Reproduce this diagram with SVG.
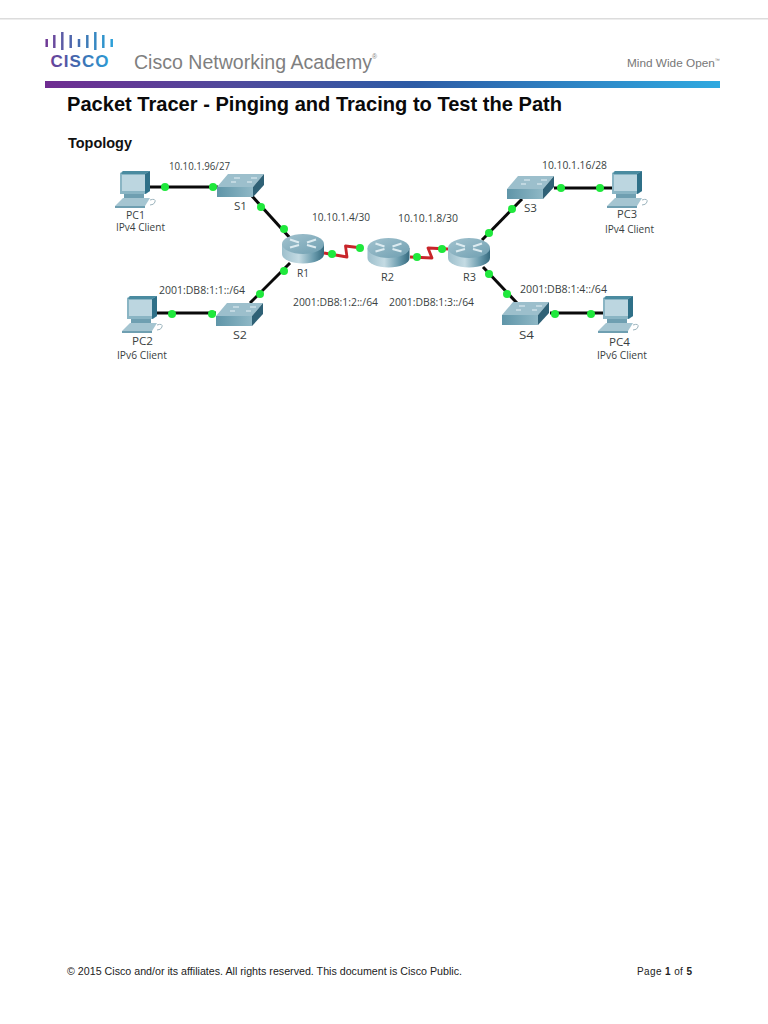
<svg xmlns="http://www.w3.org/2000/svg" width="768" height="1024" viewBox="0 0 768 1024">
<style>
text{font-family:"Liberation Sans",Arial,sans-serif}
.lbl{font-family:"Open Sans","Liberation Sans",sans-serif;font-size:10.500px;fill:#3a3f42}
.eth{fill:none;stroke:#0a0a0a;stroke-width:3}
.ser{fill:none;stroke:#c8252a;stroke-width:2.800;stroke-linejoin:round}
.dot{fill:#1fe83c}
.bar{stroke-width:2.500;fill:none}
</style>
<defs>
<linearGradient id="band" x1="0" x2="1" y1="0" y2="0"><stop offset="0" stop-color="#6f2c91"/><stop offset=".28" stop-color="#4f4a9c"/><stop offset=".55" stop-color="#2c5ca6"/><stop offset="1" stop-color="#2fa9e0"/></linearGradient>
<linearGradient id="logo" gradientUnits="userSpaceOnUse" x1="46" x2="112" y1="0" y2="0"><stop offset="0" stop-color="#6f3a96"/><stop offset=".5" stop-color="#3f6cb0"/><stop offset="1" stop-color="#2c9fd8"/></linearGradient>
<linearGradient id="rt" x1="0" x2="1" y1="0" y2="0"><stop offset="0" stop-color="#9dbfcc"/><stop offset=".4" stop-color="#c4dbe3"/><stop offset=".75" stop-color="#6b9cae"/><stop offset="1" stop-color="#356a7e"/></linearGradient>
<linearGradient id="rtop" x1="0" x2="1" y1="0" y2="1"><stop offset="0" stop-color="#a3c3cf"/><stop offset="1" stop-color="#6f9fb1"/></linearGradient>
<linearGradient id="sw" x1="0" x2="1" y1="0" y2="0"><stop offset="0" stop-color="#5f95a8"/><stop offset="1" stop-color="#8fb8c6"/></linearGradient>
<g id="pc">
<path d="M0 1 L3 -1 H30 V19 L26 22 H0Z" fill="#8ab5c4"/>
<path d="M25 2 L30 -1 V19 L25 22Z" fill="#2f7088"/>
<path d="M3 -1 H30 L25 2 H1Z" fill="#4a8ba0"/>
<rect x="2" y="3" width="23" height="16" fill="#bcd6e0"/>
<path d="M4 22 H24 V26 H4Z" fill="#6f9fb1"/>
<path d="M-5 34 L3 26 H30 L25 34Z" fill="#a5c5d1"/>
<path d="M-5 34 H25 V36 H-5Z" fill="#6f9fb1"/>
<path d="M30 28 q6 -2 5 2 q-1 3 -5 3" fill="none" stroke="#9cb4bd"/>
</g>
<g id="switch">
<path d="M0 13 L11 0 H47 L36 13Z" fill="#9cbfcc"/>
<path d="M14 8 H19 M17 4 H23 M30 8 H35 M34 4 H40" stroke="#e6f1f5" stroke-width="1.200"/>
<path d="M0 13 H36 V23 H0Z" fill="url(#sw)"/>
<path d="M36 13 L47 0 V11 L36 23Z" fill="#2f6176"/>
</g>
<g id="router">
<path d="M-21 -5 V5 A21 9.500 0 0 0 21 5 V-5Z" fill="url(#rt)"/>
<ellipse cx="0" cy="-5" rx="21" ry="10" fill="url(#rtop)"/>
<path d="M-13 -9.500 L-4 -6.500 M-13 -1.500 L-4 -4 M13 -9.500 L4 -6.500 M13 -1.500 L4 -4" stroke="#dcebf0" stroke-width="2"/>
</g>
</defs>
<rect width="768" height="1024" fill="#fff"/>
<rect x="0" y="18" width="768" height="1.500" fill="#dcdcdc"/>
<g id="header">
<g class="bar">
<path d="M46.700 39V47" stroke="#6f3a96"/><path d="M54.300 35V48" stroke="#6a4b9e"/><path d="M62.300 32V50" stroke="#5c5ca6"/><path d="M70.700 35V48" stroke="#4f66ac"/><path d="M79 39V47" stroke="#456eb0"/><path d="M87.300 35V48" stroke="#3f7cb8"/><path d="M95.300 32V50" stroke="#3788c2"/><path d="M103.300 35V48" stroke="#3194cc"/><path d="M111.700 39V47" stroke="#2c9fd8"/>
</g>
<text x="50.500" y="67" font-size="17" font-weight="700" fill="url(#logo)" textLength="58" lengthAdjust="spacing">CISCO</text>
<text x="134" y="68.500" font-size="20" fill="#7f7f7f" textLength="243" lengthAdjust="spacingAndGlyphs">Cisco Networking Academy<tspan font-size="7" dy="-10">®</tspan></text>
<text x="627" y="67" font-size="11.500" fill="#777" textLength="93" lengthAdjust="spacingAndGlyphs">Mind Wide Open<tspan font-size="5" dy="-5">™</tspan></text>
<rect x="45" y="81" width="675" height="7" fill="url(#band)"/>
</g>
<text x="67" y="110.500" font-size="21" font-weight="700" fill="#0a0a0a" textLength="495" lengthAdjust="spacingAndGlyphs">Packet Tracer - Pinging and Tracing to Test the Path</text>
<text x="68" y="147.500" font-size="14.500" font-weight="700" fill="#111" textLength="64" lengthAdjust="spacingAndGlyphs">Topology</text>
<g id="connectors">
<path class="eth" d="M150 187H218"/>
<path class="eth" d="M252 196L290 238"/>
<path class="eth" d="M290 263L250 303"/>
<path class="eth" d="M157 313H216"/>
<path class="ser" d="M324 253L347 257L345.500 246L362 248"/>
<path class="ser" d="M410 257L432 258L428 248L448 249"/>
<path class="eth" d="M482 240L522 199"/>
<path class="eth" d="M483 267L517 303"/>
<path class="eth" d="M554 188H612"/>
<path class="eth" d="M550 313H603"/>
<g class="dot">
<circle cx="165" cy="187" r="4"/><circle cx="213" cy="187" r="4"/>
<circle cx="261" cy="207" r="4"/><circle cx="284" cy="229" r="4"/>
<circle cx="284" cy="271" r="4"/><circle cx="260" cy="294" r="4"/>
<circle cx="172" cy="314" r="4"/><circle cx="212" cy="314" r="4"/>
<circle cx="332" cy="254" r="4"/><circle cx="360" cy="248" r="4"/>
<circle cx="417" cy="257" r="4"/><circle cx="442" cy="249" r="4"/>
<circle cx="512" cy="209" r="4"/><circle cx="489" cy="233" r="4"/>
<circle cx="561" cy="188" r="4"/><circle cx="600" cy="188" r="4"/>
<circle cx="489" cy="274" r="4"/><circle cx="507" cy="294" r="4"/>
<circle cx="555" cy="314" r="4"/><circle cx="591" cy="314" r="4"/>
</g>
</g>
<g id="PC1"><use href="#pc" x="120" y="172"/><text class="lbl" x="126" y="219" textLength="19" lengthAdjust="spacingAndGlyphs">PC1</text><text class="lbl" x="116" y="231" textLength="49" lengthAdjust="spacingAndGlyphs">IPv4 Client</text></g>
<g id="PC2"><use href="#pc" x="127" y="297"/><text class="lbl" x="132" y="345" textLength="21" lengthAdjust="spacingAndGlyphs">PC2</text><text class="lbl" x="117" y="359" textLength="50" lengthAdjust="spacingAndGlyphs">IPv6 Client</text></g>
<g id="PC3"><use href="#pc" x="612" y="172"/><text class="lbl" x="617" y="218" textLength="20" lengthAdjust="spacingAndGlyphs">PC3</text><text class="lbl" x="605" y="233" textLength="49" lengthAdjust="spacingAndGlyphs">IPv4 Client</text></g>
<g id="PC4"><use href="#pc" x="603" y="297"/><text class="lbl" x="609" y="346" textLength="21" lengthAdjust="spacingAndGlyphs">PC4</text><text class="lbl" x="597" y="359" textLength="50" lengthAdjust="spacingAndGlyphs">IPv6 Client</text></g>
<g id="S1"><use href="#switch" x="217" y="174"/><text class="lbl" x="234" y="210" textLength="13" lengthAdjust="spacingAndGlyphs">S1</text></g>
<g id="S2"><use href="#switch" x="216" y="303"/><text class="lbl" x="233" y="339" textLength="14" lengthAdjust="spacingAndGlyphs">S2</text></g>
<g id="S3"><use href="#switch" x="507" y="176"/><text class="lbl" x="524" y="212" textLength="13" lengthAdjust="spacingAndGlyphs">S3</text></g>
<g id="S4"><use href="#switch" x="502" y="302"/><text class="lbl" x="519" y="339" textLength="15" lengthAdjust="spacingAndGlyphs">S4</text></g>
<g id="R1"><use href="#router" x="303" y="249"/><text class="lbl" x="297" y="277" textLength="12" lengthAdjust="spacingAndGlyphs">R1</text></g>
<g id="R2"><use href="#router" x="388.500" y="253"/><text class="lbl" x="381" y="281" textLength="13" lengthAdjust="spacingAndGlyphs">R2</text></g>
<g id="R3"><use href="#router" x="469" y="253"/><text class="lbl" x="463" y="281" textLength="13" lengthAdjust="spacingAndGlyphs">R3</text></g>
<g id="net-labels">
<text class="lbl" x="169" y="170" textLength="61" lengthAdjust="spacingAndGlyphs">10.10.1.96/27</text>
<text class="lbl" x="312" y="221" textLength="58" lengthAdjust="spacingAndGlyphs">10.10.1.4/30</text>
<text class="lbl" x="398" y="222" textLength="60" lengthAdjust="spacingAndGlyphs">10.10.1.8/30</text>
<text class="lbl" x="542" y="169" textLength="65" lengthAdjust="spacingAndGlyphs">10.10.1.16/28</text>
<text class="lbl" x="159" y="294" textLength="86" lengthAdjust="spacingAndGlyphs">2001:DB8:1:1::/64</text>
<text class="lbl" x="293" y="306" textLength="85" lengthAdjust="spacingAndGlyphs">2001:DB8:1:2::/64</text>
<text class="lbl" x="389" y="306" textLength="85" lengthAdjust="spacingAndGlyphs">2001:DB8:1:3::/64</text>
<text class="lbl" x="520" y="293" textLength="87" lengthAdjust="spacingAndGlyphs">2001:DB8:1:4::/64</text>
</g>
<g id="footer">
<text x="67" y="975" font-size="10.500" fill="#222" textLength="395" lengthAdjust="spacingAndGlyphs">© 2015 Cisco and/or its affiliates. All rights reserved. This document is Cisco Public.</text>
<text x="637" y="975" font-size="10" fill="#222" textLength="55">Page <tspan font-weight="700">1</tspan> of <tspan font-weight="700">5</tspan></text>
</g>
</svg>
